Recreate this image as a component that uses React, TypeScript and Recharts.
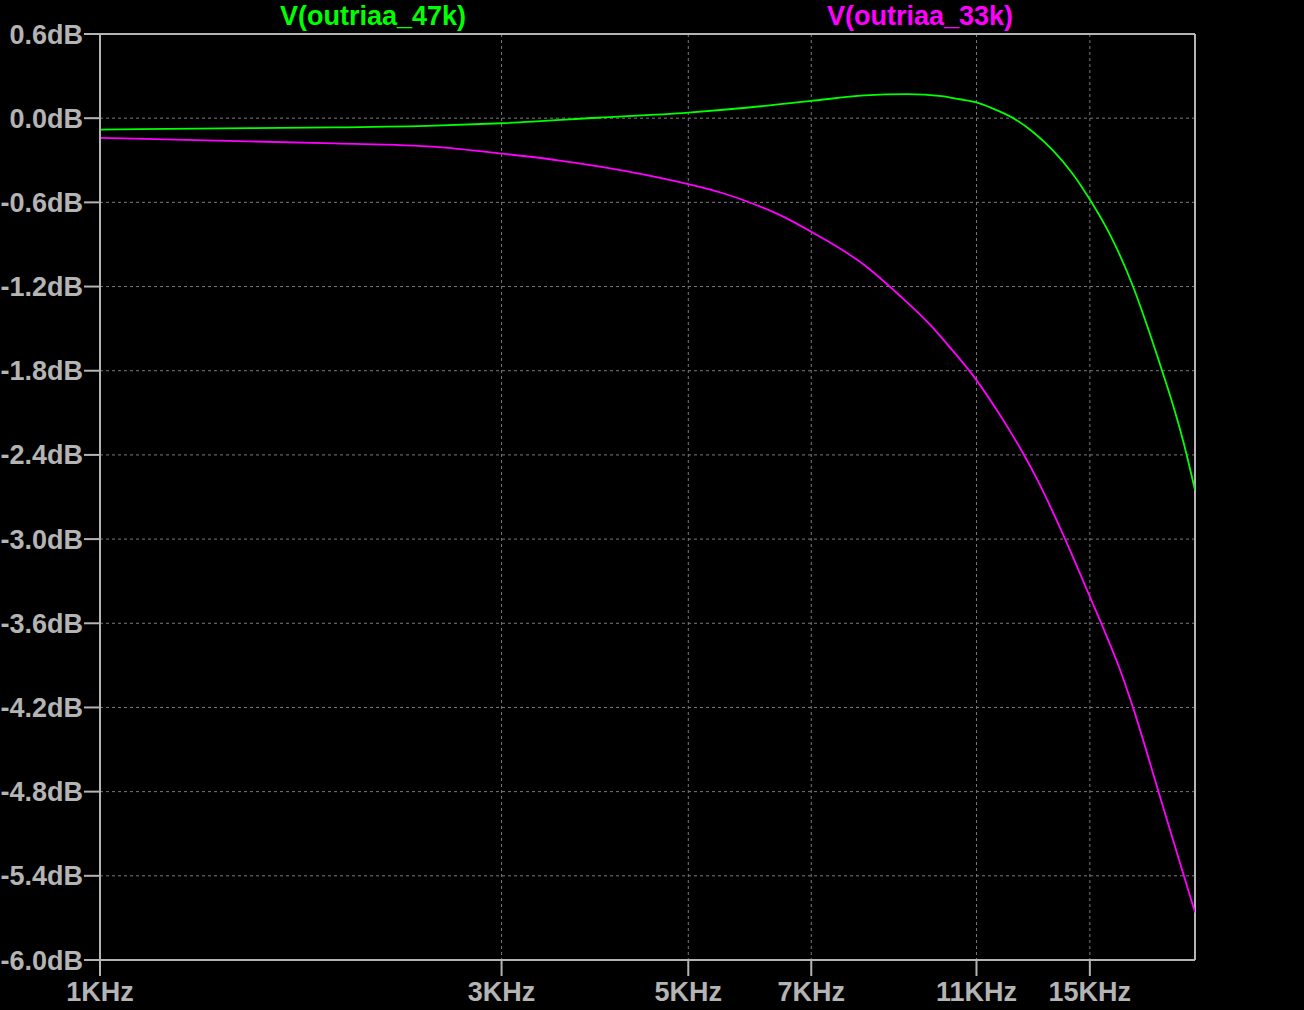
import React from "react";
import {
  LineChart,
  Line,
  XAxis,
  YAxis,
  CartesianGrid,
  ReferenceLine,
} from "recharts";

// values (frequency in Hz, gain in dB)
const freq47k = [
  1000, 1300, 1900, 2500, 3000, 3900, 5000, 5900, 7000, 8100, 9100, 10000,
  10500, 11000, 11500, 12150, 12850, 13550, 14300, 15000, 15900, 16900, 17500,
  18300, 18800, 19400, 20000,
];
const db47k = [
  -0.081, -0.074, -0.066, -0.053, -0.036, 0.003, 0.04, 0.076, 0.123, 0.162,
  0.171, 0.157, 0.135, 0.112, 0.069, 0.002, -0.1, -0.228, -0.394, -0.58,
  -0.846, -1.207, -1.46, -1.81, -2.03, -2.32, -2.65,
];

const freq33k = [
  1000, 1300, 1900, 2500, 3000, 3500, 4200, 5000, 5500, 6000, 6500, 7000, 8100,
  8900, 9700, 10200, 11000, 11700, 12500, 13000, 13900, 15000, 15500, 16300,
  16900, 18100, 19400, 20000,
];
const db33k = [
  -0.14, -0.157, -0.18, -0.204, -0.252, -0.3, -0.375, -0.47, -0.535, -0.615,
  -0.705, -0.81, -1.048, -1.26, -1.475, -1.625, -1.867, -2.105, -2.39, -2.58,
  -2.95, -3.41, -3.61, -3.935, -4.21, -4.8, -5.4, -5.66,
];

const xTicks = [1000, 3000, 5000, 7000, 11000, 15000];
const yTicks = [0.6, 0, -0.6, -1.2, -1.8, -2.4, -3.0, -3.6, -4.2, -4.8, -5.4, -6.0];

const data47k = freq47k.map((f, i) => ({ f, v: db47k[i] }));
const data33k = freq33k.map((f, i) => ({ f, v: db33k[i] }));

const FONT = "'Liberation Sans', Arial, sans-serif";
const AXIS = "#b4b4b4";
const GRID = "#7a7a7a";

const tickStyle = {
  fill: AXIS,
  fontSize: 27,
  fontWeight: 700,
  fontFamily: FONT,
};

const titleStyle = {
  position: "absolute" as const,
  top: 16,
  transform: "translate(-50%, -50%)",
  fontFamily: FONT,
  fontWeight: 700,
  fontSize: 27,
  whiteSpace: "nowrap" as const,
};

export default function App() {
  return (
    <div
      style={{
        position: "absolute",
        left: 0,
        top: 0,
        width: 1304,
        height: 1010,
        background: "#000",
        overflow: "hidden",
      }}
    >
      <div style={{ ...titleStyle, left: 373, color: "#00ff00" }}>V(outriaa_47k)</div>
      <div style={{ ...titleStyle, left: 920, color: "#ff00ff" }}>V(outriaa_33k)</div>
      <LineChart
        width={1304}
        height={1010}
        margin={{ top: 34, right: 109, bottom: 0, left: 0 }}
      >
        <CartesianGrid stroke={GRID} strokeDasharray="3 3" />
        <XAxis
          dataKey="f"
          type="number"
          scale="log"
          domain={[1000, 20000]}
          ticks={xTicks}
          allowDataOverflow
          height={50}
          tickSize={16}
          tickMargin={6}
          tick={tickStyle}
          stroke={AXIS}
          axisLine={{ stroke: AXIS, strokeWidth: 2 }}
          tickLine={{ stroke: AXIS, strokeWidth: 2 }}
          tickFormatter={(v: number) => `${Math.round(v / 1000)}KHz`}
        />
        <YAxis
          type="number"
          domain={[-6, 0.6]}
          ticks={yTicks}
          allowDataOverflow
          width={100}
          tickSize={16}
          tickMargin={1}
          tick={tickStyle}
          stroke={AXIS}
          axisLine={{ stroke: AXIS, strokeWidth: 2 }}
          tickLine={{ stroke: AXIS, strokeWidth: 2 }}
          tickFormatter={(v: number) => `${v.toFixed(1)}dB`}
        />
        <ReferenceLine y={0.6} stroke={AXIS} strokeWidth={2} />
        <ReferenceLine x={20000} stroke={AXIS} strokeWidth={2} />
        <Line
          data={data47k}
          dataKey="v"
          type="monotone"
          stroke="#00ff00"
          strokeWidth={1.8}
          dot={false}
          isAnimationActive={false}
        />
        <Line
          data={data33k}
          dataKey="v"
          type="monotone"
          stroke="#ff00ff"
          strokeWidth={1.8}
          dot={false}
          isAnimationActive={false}
        />
      </LineChart>
    </div>
  );
}
